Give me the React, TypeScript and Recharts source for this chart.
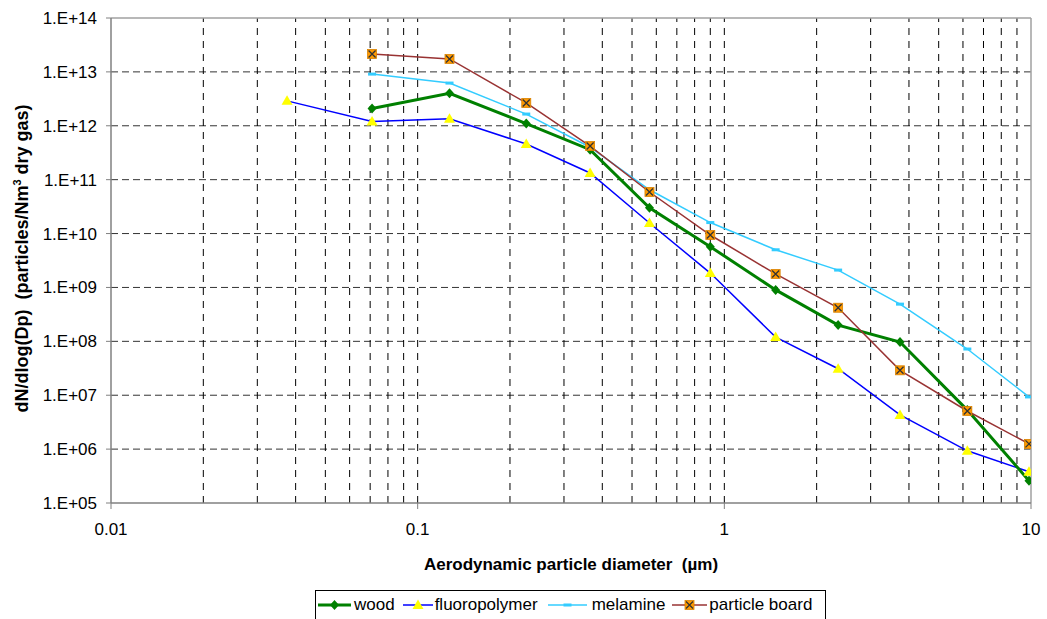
import React from "react";
import { CartesianGrid, Legend, Line, LineChart, ReferenceLine, XAxis, YAxis } from "recharts";

// stage midpoints (µm)
const diameters = [0.071, 0.127, 0.226, 0.365, 0.57, 0.9, 1.47, 2.35, 3.74, 6.2, 9.85];
const fluoroDiameters = [0.0375, 0.071, 0.127, 0.226, 0.365, 0.57, 0.9, 1.47, 2.35, 3.74, 6.2, 9.85];

const woodValues = [2.1e12, 4.0e12, 1.1e12, 3.6e11, 3.0e10, 5.7e9, 9.0e8, 2.0e8, 9.7e7, 5.3e6, 2.6e5];
const fluoroValues = [2.9e12, 1.2e12, 1.35e12, 4.6e11, 1.33e11, 1.57e10, 1.85e9, 1.2e8, 3.1e7, 4.3e6, 9.3e5, 3.8e5];
const melamineValues = [9.1e12, 6.2e12, 1.65e12, 4.0e11, 6.5e10, 1.6e10, 5.0e9, 2.1e9, 4.9e8, 7.2e7, 9.3e6];
const boardValues = [2.15e13, 1.74e13, 2.65e12, 4.2e11, 5.9e10, 9.4e9, 1.78e9, 4.2e8, 2.9e7, 5.1e6, 1.25e6];

const xDecades = [0.01, 0.1, 1, 10];
const xTickLabels = ["0.01", "0.1", "1", "10"];
const yDecades = [1e5, 1e6, 1e7, 1e8, 1e9, 1e10, 1e11, 1e12, 1e13, 1e14];
const yTickLabels = ["1.E+05", "1.E+06", "1.E+07", "1.E+08", "1.E+09", "1.E+10", "1.E+11", "1.E+12", "1.E+13", "1.E+14"];
const multipliers = [2, 3, 4, 5, 6, 7, 8, 9];

const xGridValues = [0.01, 0.1, 1]
  .flatMap((d) => [d, ...multipliers.map((m) => d * m)])
  .filter((v) => v > 0.01);
const yInnerDecades = yDecades.slice(1, -1);
const yMinorTicks = yDecades.slice(0, -1).flatMap((d) => [d, ...multipliers.map((m) => d * m)]).concat([1e14]);

const toPoints = (xs: number[], ys: number[]) => xs.map((x, i) => ({ x, y: ys[i] }));

const woodData = toPoints(diameters, woodValues);
const fluoroData = toPoints(fluoroDiameters, fluoroValues);
const melamineData = toPoints(diameters, melamineValues);
const boardData = toPoints(diameters, boardValues);

const FONT = "Arial, 'Liberation Sans', sans-serif";
const AXIS_GRAY = "#808080";

const WOOD = "#008000";
const FLUORO = "#0000ff";
const MELAMINE = "#33ccff";
const BOARD = "#993333";

function Diamond({ cx, cy }: { cx: number; cy: number }) {
  return <path d={`M${cx},${cy - 5}L${cx + 4.5},${cy}L${cx},${cy + 5}L${cx - 4.5},${cy}Z`} fill={WOOD} />;
}
function Triangle({ cx, cy }: { cx: number; cy: number }) {
  return <path d={`M${cx},${cy - 5.5}L${cx + 5.5},${cy + 4}L${cx - 5.5},${cy + 4}Z`} fill="#ffff00" />;
}
function Dash({ cx, cy }: { cx: number; cy: number }) {
  return <rect x={cx - 4} y={cy - 1.5} width={8} height={3} fill={MELAMINE} />;
}
function CrossBox({ cx, cy }: { cx: number; cy: number }) {
  return (
    <g>
      <rect x={cx - 4.5} y={cy - 4.5} width={9} height={9} fill="#ff9900" stroke="#d98200" strokeWidth={0.8} />
      <path d={`M${cx - 3.5},${cy - 3.5}L${cx + 3.5},${cy + 3.5}M${cx + 3.5},${cy - 3.5}L${cx - 3.5},${cy + 3.5}`} stroke="#333" strokeWidth={1.3} />
    </g>
  );
}

const dotOf = (Shape: React.ComponentType<{ cx: number; cy: number }>) => (p: any) =>
  <Shape key={`d-${p.index}`} cx={p.cx} cy={p.cy} />;

function XTitle(props: any) {
  const vb = props.viewBox || { x: 111, y: 503, width: 920 };
  return (
    <text x={vb.x + vb.width / 2} y={vb.y + 67} textAnchor="middle" fontFamily={FONT} fontSize={17} fontWeight="bold" fill="#000" style={{ whiteSpace: "pre" }}>
      Aerodynamic particle diameter  (µm)
    </text>
  );
}

function YTitle(props: any) {
  const vb = props.viewBox || { x: 0, y: 18, height: 485 };
  const cx = vb.x + 28;
  const cy = vb.y + vb.height / 2 - 2;
  return (
    <text x={cx} y={cy} transform={`rotate(-90 ${cx} ${cy})`} textAnchor="middle" fontFamily={FONT} fontSize={18} fontWeight="bold" fill="#000" style={{ whiteSpace: "pre" }}>
      dN/dlog(Dp)  (particles/Nm<tspan dy={-7} fontSize={11}>3</tspan><tspan dy={7}> dry gas)</tspan>
    </text>
  );
}

const legendItems = [
  { name: "wood", color: WOOD, width: 3, icon: Diamond, lineLen: 33, gap: 3, ml: 2 },
  { name: "fluoropolymer", color: FLUORO, width: 1.5, icon: Triangle, lineLen: 30, gap: 2, ml: 8 },
  { name: "melamine", color: MELAMINE, width: 1.5, icon: Dash, lineLen: 39, gap: 5, ml: 10 },
  { name: "particle board", color: BOARD, width: 1.5, icon: CrossBox, lineLen: 35, gap: 2, ml: 7 },
];

function LegendBox() {
  return (
    <div style={{ boxSizing: "border-box", width: 511, height: 40, border: "1px solid #000", display: "flex", alignItems: "flex-start", paddingTop: 4, fontFamily: FONT, fontSize: 17, color: "#000", background: "#fff" }}>
      {legendItems.map((it) => {
        const Icon = it.icon;
        const mid = it.lineLen / 2;
        return (
          <div key={it.name} style={{ display: "flex", alignItems: "center", marginLeft: it.ml }}>
            <svg width={it.lineLen} height={14} style={{ marginRight: it.gap }}>
              <line x1={0} y1={7} x2={it.lineLen} y2={7} stroke={it.color} strokeWidth={it.width} />
              <Icon cx={mid} cy={7} />
            </svg>
            <span style={{ lineHeight: "20px", whiteSpace: "pre" }}>{it.name}</span>
          </div>
        );
      })}
    </div>
  );
}

export default function App() {
  return (
    <div style={{ position: "absolute", left: 0, top: 0, width: 1047, height: 619, background: "#fff" }}>
      <LineChart width={1047} height={619} margin={{ top: 18, right: 16, left: 0, bottom: 0 }}>
        <CartesianGrid vertical={false} horizontalValues={yInnerDecades} stroke="#333" strokeDasharray="7 4" />
        {xGridValues.map((v) => (
          <ReferenceLine key={`vg-${v}`} x={v} stroke="#000" strokeDasharray="7 6" />
        ))}
        <XAxis
          dataKey="x"
          type="number"
          scale="log"
          domain={[0.01, 10]}
          allowDataOverflow
          interval={0}
          ticks={xDecades}
          tickFormatter={(_v: number, i: number) => xTickLabels[i]}
          tickSize={6}
          tickMargin={14}
          height={116}
          axisLine={{ stroke: AXIS_GRAY, strokeWidth: 1.5 }}
          tickLine={{ stroke: AXIS_GRAY }}
          tick={{ fill: "#000", fontSize: 17, fontFamily: FONT }}
          label={<XTitle />}
        />
        <XAxis
          xAxisId="minor"
          type="number"
          scale="log"
          domain={[0.01, 10]}
          allowDataOverflow
          mirror
          interval={0}
          ticks={xGridValues}
          tick={false}
          tickSize={4}
          axisLine={false}
          tickLine={{ stroke: AXIS_GRAY }}
        />
        <YAxis
          type="number"
          scale="log"
          domain={[1e5, 1e14]}
          allowDataOverflow
          interval={0}
          ticks={yDecades}
          tickFormatter={(_v: number, i: number) => yTickLabels[i]}
          width={111}
          tickSize={5}
          tickMargin={9}
          axisLine={{ stroke: AXIS_GRAY, strokeWidth: 1.5 }}
          tickLine={{ stroke: AXIS_GRAY }}
          tick={{ fill: "#000", fontSize: 17, fontFamily: FONT }}
          label={<YTitle />}
        />
        <YAxis
          yAxisId="minor"
          type="number"
          scale="log"
          domain={[1e5, 1e14]}
          allowDataOverflow
          mirror
          interval={0}
          ticks={yMinorTicks}
          tick={false}
          tickSize={4}
          axisLine={false}
          tickLine={{ stroke: AXIS_GRAY }}
        />
        <ReferenceLine y={1e14} stroke="#a0a0a0" strokeWidth={1.5} />
        <ReferenceLine x={10} stroke="#a0a0a0" strokeWidth={1.5} />
        <Line data={fluoroData} dataKey="y" name="fluoropolymer" stroke={FLUORO} strokeWidth={1.5} dot={dotOf(Triangle)} isAnimationActive={false} />
        <Line data={melamineData} dataKey="y" name="melamine" stroke={MELAMINE} strokeWidth={1.5} dot={dotOf(Dash)} isAnimationActive={false} />
        <Line data={woodData} dataKey="y" name="wood" stroke={WOOD} strokeWidth={3} dot={dotOf(Diamond)} isAnimationActive={false} />
        <Line data={boardData} dataKey="y" name="particle board" stroke={BOARD} strokeWidth={1.5} dot={dotOf(CrossBox)} isAnimationActive={false} />
        <Legend layout="horizontal" verticalAlign="middle" align="center" wrapperStyle={{ top: 590, left: 315, width: 511 }} content={() => <LegendBox />} />
      </LineChart>
    </div>
  );
}
